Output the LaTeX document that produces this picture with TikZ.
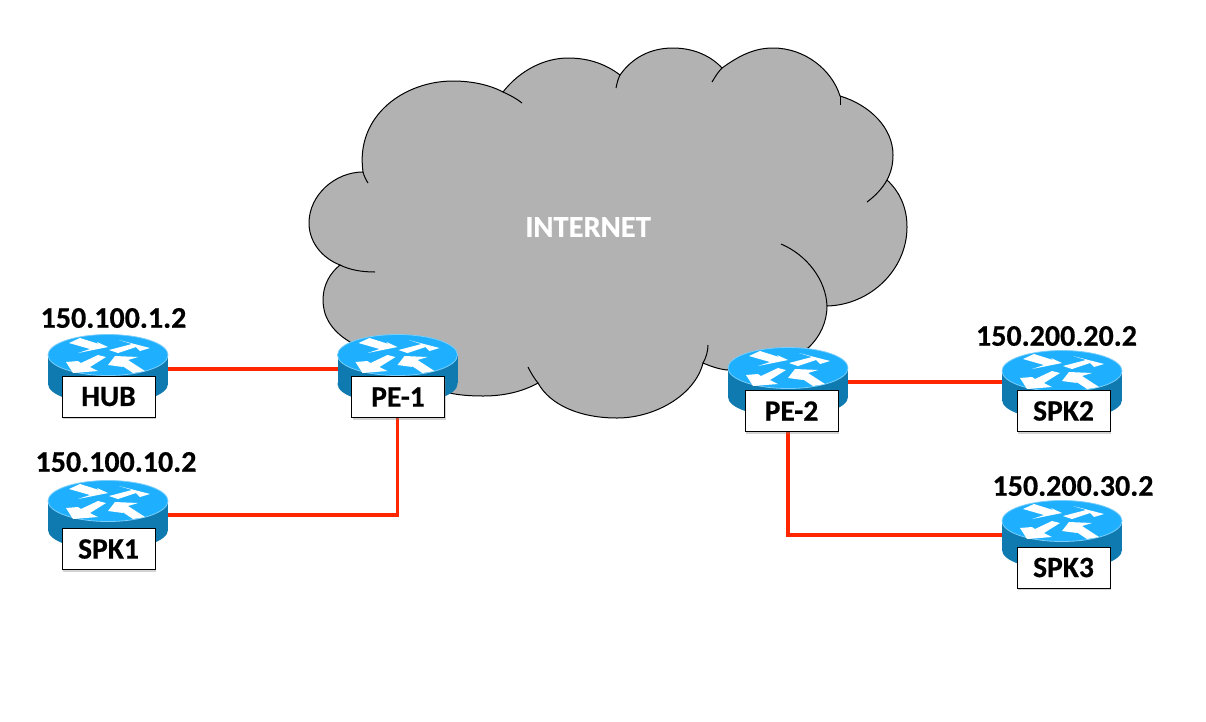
\documentclass[tikz,border=0pt]{standalone}
\usepackage{fontspec}
\setmainfont[BoldFeatures={FakeBold=0.5}]{Carlito}
\usetikzlibrary{shadows}
\definecolor{cloudgray}{RGB}{178,178,178}
\definecolor{routertop}{RGB}{30,176,255}
\definecolor{routerrim}{RGB}{120,205,250}
\definecolor{routerside}{RGB}{15,122,175}
\definecolor{linkred}{RGB}{255,38,0}

\tikzset{
  routerbody/.style={rectangle, fill=routerside, minimum width=120pt, minimum height=28pt, inner sep=0pt, outer sep=0pt},
  namebox/.style={rectangle, draw=black, line width=1pt, fill=white, minimum width=93pt, minimum height=41pt, inner sep=0pt, font=\fontsize{29.5}{32}\selectfont\bfseries, drop shadow={shadow xshift=1pt, shadow yshift=-2pt, opacity=0.35}},
  addr/.style={inner sep=0pt, font=\fontsize{30}{32}\selectfont\bfseries},
  link/.style={draw=linkred, line width=3.5pt},
  router/.pic={
    \fill[routerside] (0,29) ellipse [x radius=60pt, y radius=20pt];
    \node (-body) [routerbody] at (0,14) {};
    \fill[routertop, draw=routerrim, line width=0.8pt] (0,0) ellipse [x radius=60pt, y radius=20.5pt];
    \fill[white] (-39,-12) -- (-28,-17) -- (-9,-11) -- (-11,-13) -- (0,-8) -- (-30,-2) -- (-18,-6) -- cycle;
    \fill[white] (1,-5) -- (24,-11) -- (11,-15) -- (42,-7) -- (32,-4) -- (28,-8) -- (10,-2) -- cycle;
    \fill[white] (-2,2) -- (-10,0) -- (-27,8) -- (-30,6) -- (-42,7) -- (-35,18) -- (-10,16) -- (-18,12) -- cycle;
    \fill[white] (0,10) -- (7,1) -- (30,2) -- (20,5) -- (37,16) -- (25,18) -- (10,8) -- (15,12) -- cycle;
  }
}

\begin{document}
\begin{tikzpicture}[x=1pt, y=-1pt]
\useasboundingbox (0,0) rectangle (1206,721);

% cloud
\draw[fill=cloudgray, line width=1pt] (363,172)
  .. controls (355,115) and (405,81) .. (453,81) .. controls (472,81) and (490,85) .. (503,92)
  .. controls (520,70) and (545,58) .. (568,58) .. controls (590,58) and (607,65) .. (620,75)
  .. controls (632,58) and (650,48) .. (673,48) .. controls (695,48) and (712,57) .. (722,68)
  .. controls (740,55) and (755,48) .. (773,48) .. controls (805,48) and (832,70) .. (840,96)
  .. controls (870,105) and (893,128) .. (893,155) .. controls (893,165) and (891,172) .. (887,180)
  .. controls (900,192) and (907,208) .. (907,227) .. controls (907,270) and (870,305) .. (827,306)
  .. controls (827,322) and (820,337) .. (808,348) -- (727,370)
  .. controls (718,369) and (710,366) .. (703,363)
  .. controls (695,395) and (655,418) .. (617,418) .. controls (580,418) and (550,405) .. (538,383)
  .. controls (522,392) and (503,396) .. (483,396) .. controls (470,396) and (458,395) .. (450,393) -- (350,342)
  .. controls (330,330) and (323,315) .. (323,300) .. controls (323,285) and (330,273) .. (340,265)
  .. controls (322,258) and (309,242) .. (309,223) .. controls (309,195) and (335,172) .. (363,172) -- cycle;
\draw[line width=1pt] (503,92) .. controls (510,95) and (517,99) .. (522,103);
\draw[line width=1pt] (620,75) .. controls (618,79) and (617,83) .. (616,88);
\draw[line width=1pt] (722,68) .. controls (718,72) and (715,77) .. (712,82);
\draw[line width=1pt] (840,96) -- (840,105);
\draw[line width=1pt] (887,180) .. controls (882,189) and (875,196) .. (867,202);
\draw[line width=1pt] (827,306) .. controls (826,280) and (807,255) .. (781,244);
\draw[line width=1pt] (703,363) .. controls (706,358) and (708,351) .. (708,345);
\draw[line width=1pt] (538,383) .. controls (534,378) and (531,373) .. (528,367);
\draw[line width=1pt] (340,265) .. controls (350,270) and (362,272) .. (375,272);
\draw[line width=1pt] (363,172) .. controls (364,176) and (366,180) .. (368,183);
\node (internet) [inner sep=0pt, text=white, font=\fontsize{30.5}{32}\selectfont\bfseries] at (588,227) {INTERNET};

% routers
\pic (hub) at (108,355) {router};
\pic (spkone) at (108,501) {router};
\pic (peone) at (397.5,355) {router};
\pic (petwo) at (788,368) {router};
\pic (spktwo) at (1062,371) {router};
\pic (spkthree) at (1062,521) {router};

% links
\draw [link] (hub-body.east) -- (peone-body.west);
\draw [link] (spkone-body.east) -| (peone-body.south);
\draw [link] (petwo-body.east) -- (petwo-body.east -| spktwo-body.west);
\draw [link] (petwo-body.south) |- (spkthree-body.west);

\node (hublabel) [namebox] at (108.5,396.5) {HUB};
\node (spkonelabel) [namebox] at (108.5,549) {SPK1};
\node (peonelabel) [namebox] at (398,397) {PE-1};
\node (petwolabel) [namebox] at (791.5,411) {PE-2};
\node (spktwolabel) [namebox] at (1063.5,411) {SPK2};
\node (spkthreelabel) [namebox] at (1063.5,567.5) {SPK3};

\node (hubaddr) [addr] at (113.5,318) {150.100.1.2};
\node (spkoneaddr) [addr] at (116,462) {150.100.10.2};
\node (spktwoaddr) [addr] at (1056.5,336) {150.200.20.2};
\node (spkthreeaddr) [addr] at (1073,486) {150.200.30.2};
\end{tikzpicture}
\end{document}
